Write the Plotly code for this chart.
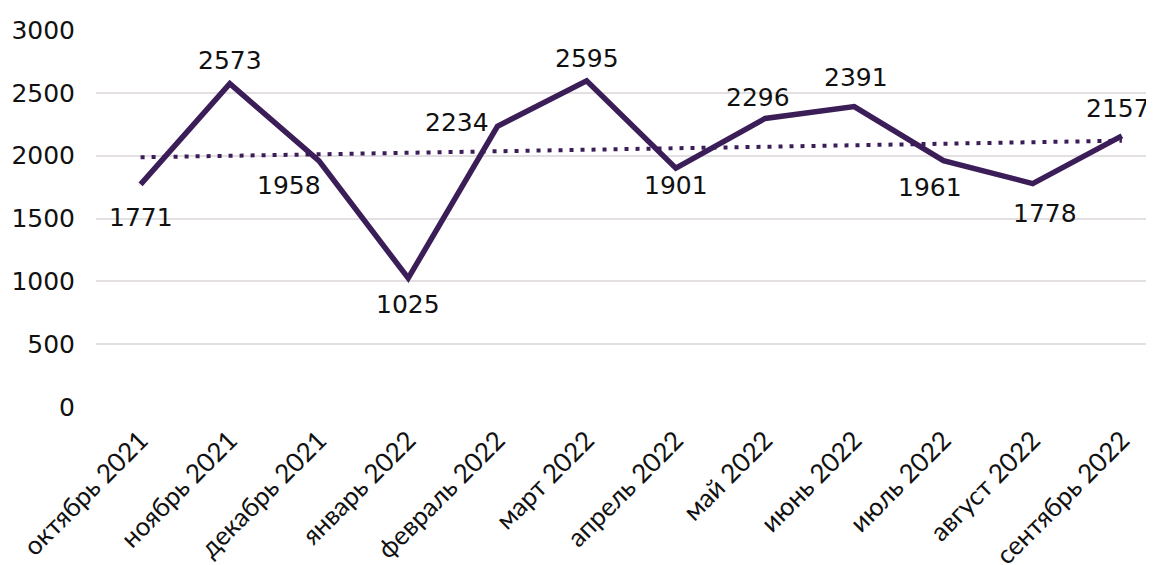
import plotly.graph_objects as go

# данные
months = ["октябрь 2021", "ноябрь 2021", "декабрь 2021", "январь 2022", "февраль 2022",
          "март 2022", "апрель 2022", "май 2022", "июнь 2022", "июль 2022",
          "август 2022", "сентябрь 2022"]
values = [1771, 2573, 1958, 1025, 2234, 2595, 1901, 2296, 2391, 1961, 1778, 2157]
# линия тренда (начало и конец, по графику)
trend_x = [months[0], months[-1]]
trend_y = [1987, 2119]

# смещения подписей относительно точек (px)
label_dx = [0, 0, -30, 0, -40, 0, 0, -7, 2, -13, 12, -4]
label_dy = [-33, 23, -25, -26, 4, 22, -17, 21, 29, -27, -30, 27]

line_color = "#3b1d58"
num_font = "DejaVu Sans"

fig = go.Figure()

fig.add_trace(go.Scatter(x=trend_x, y=trend_y, mode="lines",
                         line=dict(color=line_color, width=4, dash="4px,7px"),
                         hoverinfo="skip", showlegend=False))

fig.add_trace(go.Scatter(x=months, y=values, mode="lines",
                         line=dict(color=line_color, width=5.5),
                         cliponaxis=False, showlegend=False))

for m, v, dx, dy in zip(months, values, label_dx, label_dy):
    fig.add_annotation(x=m, y=v, text=str(v), showarrow=False,
                       xshift=dx, yshift=dy,
                       font=dict(family=num_font, size=25, color="#111111"))

fig.update_layout(
    width=1154, height=565,
    margin=dict(l=88, r=8, t=22, b=166),
    plot_bgcolor="white", paper_bgcolor="white",
    xaxis=dict(type="category", categoryorder="array", categoryarray=months,
               range=[-0.5, 11.36], tickangle=-45, automargin=False,
               tickfont=dict(family="Lato", size=26, color="#111111"),
               showgrid=False, zeroline=False, showline=False, ticks="",
               ticklabelstandoff=12),
    yaxis=dict(range=[0, 3000], dtick=500, showgrid=True, gridcolor="#e4dfe2", gridwidth=2,
               zeroline=False, showline=False, ticks="", ticklabelstandoff=20,
               automargin=False,
               tickfont=dict(family=num_font, size=25, color="#111111")),
)

fig.write_html("out.html")
